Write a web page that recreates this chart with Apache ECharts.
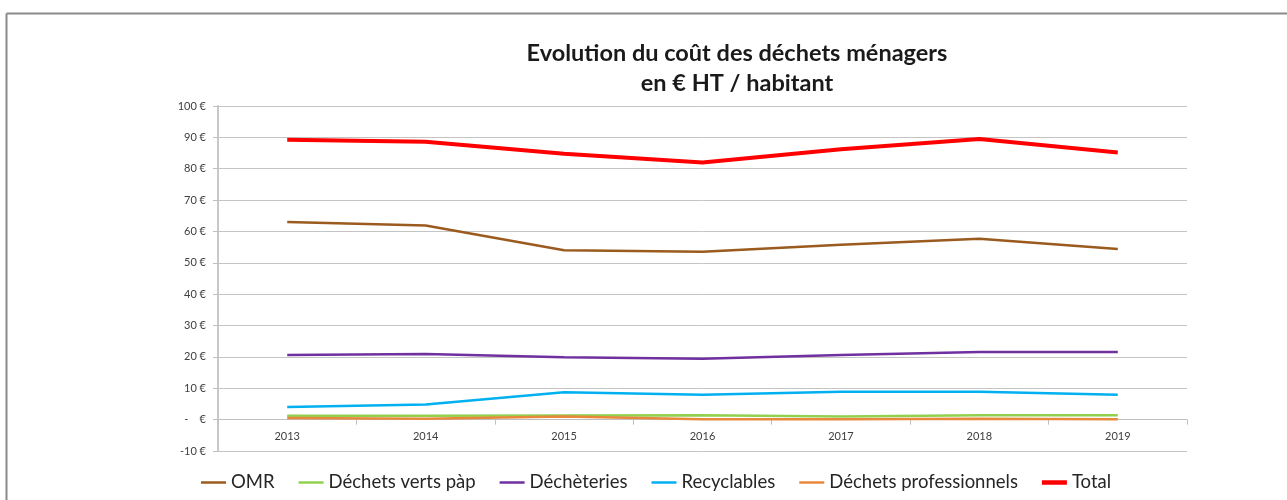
<!DOCTYPE html>
<html>
<head>
<meta charset="utf-8">
<style>
  html, body { margin: 0; padding: 0; background: #ffffff; }
  #chart { width: 1287px; height: 500px; }
</style>
<script src="https://cdn.jsdelivr.net/npm/echarts@6/dist/echarts.min.js"></script>
</head>
<body>
<div id="chart"></div>
<script>
// Coût des déchets ménagers, en € HT par habitant
const years = ['2013', '2014', '2015', '2016', '2017', '2018', '2019'];
const omr = [63.0, 61.9, 54.0, 53.5, 55.8, 57.7, 54.4];
const dechetsVerts = [1.2, 1.2, 1.3, 1.4, 1.0, 1.4, 1.4];
const decheteries = [20.6, 20.9, 19.9, 19.4, 20.6, 21.6, 21.6];
const recyclables = [4.0, 4.8, 8.7, 7.9, 8.9, 8.9, 7.9];
const dechetsPro = [0.5, 0.3, 1.0, 0.1, 0.1, 0.3, 0.1];
const total = [89.2, 88.6, 84.8, 82.0, 86.2, 89.5, 85.2];

const Y_MIN = -10;
const Y_MAX = 100;
const Y_STEP = 10;

const FONT = 'Lato, "Open Sans", sans-serif';
const GRID_TOP = 106;
const GRID_BOTTOM = 49;
const CHART_H = 500;

// The category axis sits on the zero line: shift it up by the height of the
// negative part of the value axis.
const plotH = CHART_H - GRID_TOP - GRID_BOTTOM;
const zeroOffset = plotH * (0 - Y_MIN) / (Y_MAX - Y_MIN);

// Plain line swatches for the legend (thin for most series, thick for Total)
const THIN_SWATCH = 'path://M0,0H10V1H0Z';
const THICK_SWATCH = 'path://M0,0H10V1.8H0Z';

function lineSeries(name, data, color, width) {
  return {
    name: name,
    type: 'line',
    data: data,
    symbol: 'none',
    smooth: false,
    lineStyle: { color: color, width: width },
    itemStyle: { color: color },
    emphasis: { disabled: true }
  };
}

const chart = echarts.init(document.getElementById('chart'), null, { renderer: 'canvas' });

chart.setOption({
  animation: false,
  backgroundColor: '#ffffff',
  textStyle: { fontFamily: FONT },
  title: {
    text: 'Evolution du coût des déchets ménagers\nen € HT / habitant',
    left: 732,
    top: 33,
    textAlign: 'center',
    textStyle: {
      fontFamily: FONT,
      fontSize: 23.5,
      fontWeight: 'bold',
      color: '#1a1a1a',
      lineHeight: 30
    }
  },
  graphic: [
    { type: 'line', shape: { x1: 6.5, y1: 13.5, x2: 1287, y2: 13.5 }, style: { stroke: '#8a8a8a', lineWidth: 2 }, silent: true },
    { type: 'line', shape: { x1: 6.5, y1: 13.5, x2: 6.5, y2: 500 }, style: { stroke: '#8a8a8a', lineWidth: 2 }, silent: true }
  ],
  legend: {
    bottom: 3,
    left: 196,
    itemWidth: 25,
    itemHeight: 6,
    itemGap: 24,
    symbolKeepAspect: true,
    textStyle: { fontFamily: FONT, fontSize: 18.5, color: '#262626' },
    data: [
      { name: 'OMR', icon: THIN_SWATCH },
      { name: 'Déchets verts pàp', icon: THIN_SWATCH },
      { name: 'Déchèteries', icon: THIN_SWATCH },
      { name: 'Recyclables', icon: THIN_SWATCH },
      { name: 'Déchets professionnels', icon: THIN_SWATCH },
      { name: 'Total', icon: THICK_SWATCH }
    ]
  },
  grid: { left: 218, right: 100, top: GRID_TOP, bottom: GRID_BOTTOM, containLabel: false },
  xAxis: {
    type: 'category',
    data: years,
    boundaryGap: true,
    offset: -zeroOffset,
    axisLine: { onZero: false, lineStyle: { color: '#bfbfbf', width: 1 } },
    axisTick: { show: true, interval: 0, length: 5, lineStyle: { color: '#bfbfbf' } },
    axisLabel: { fontFamily: FONT, fontSize: 11, color: '#404040', margin: 11 },
    splitLine: { show: false }
  },
  yAxis: {
    type: 'value',
    min: Y_MIN,
    max: Y_MAX,
    interval: Y_STEP,
    axisLine: { show: true, lineStyle: { color: '#c8c8c8', width: 2 } },
    axisTick: { show: true, length: 5, lineStyle: { color: '#bfbfbf' } },
    axisLabel: {
      fontFamily: FONT,
      fontSize: 11,
      color: '#404040',
      margin: 12,
      formatter: v => (v === 0 ? '-    €' : v + ' €')
    },
    splitLine: { show: true, lineStyle: { color: '#c4c4c4', width: 1 } }
  },
  series: [
    lineSeries('OMR', omr, '#9b5a1e', 2.5),
    lineSeries('Déchets verts pàp', dechetsVerts, '#92d050', 2.5),
    lineSeries('Déchèteries', decheteries, '#7030a0', 2.5),
    lineSeries('Recyclables', recyclables, '#00b0f0', 2.5),
    lineSeries('Déchets professionnels', dechetsPro, '#e8883c', 2.5),
    lineSeries('Total', total, '#ff0000', 4)
  ]
});
</script>
</body>
</html>
